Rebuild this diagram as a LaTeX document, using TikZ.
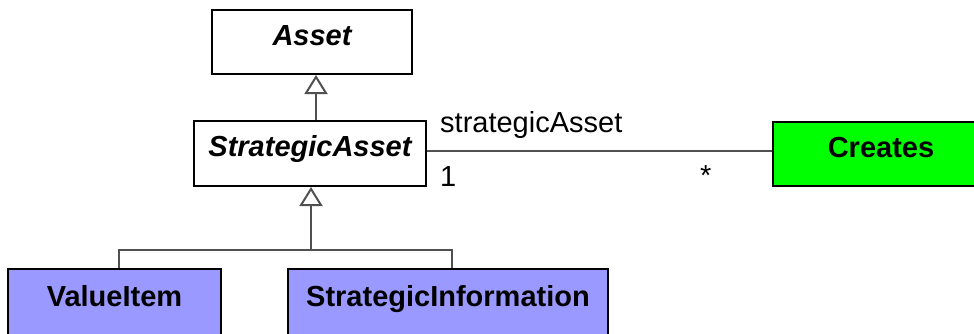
\documentclass[tikz,border=0pt]{standalone}
\usepackage{fontspec}
\setmainfont{Liberation Sans}
\usetikzlibrary{arrows.meta}
\definecolor{clsblue}{RGB}{153,153,255}
\definecolor{clsgreen}{RGB}{0,255,0}
\definecolor{linegray}{RGB}{80,80,80}
\begin{document}
\begin{tikzpicture}[x=1pt,y=-1pt,
  cls/.style={draw=black,line width=2pt,rectangle,anchor=north west,inner xsep=0pt,inner ysep=0pt,text height=35pt,font=\fontsize{29}{34}\selectfont\bfseries},
  ital/.style={font=\fontsize{29}{34}\selectfont\bfseries\itshape},
  conn/.style={draw=linegray,line width=2pt},
  gen/.style={conn,-{Triangle[open,width=23pt,length=19pt,line width=2pt]}},
  lbl/.style={font=\fontsize{29}{34}\selectfont,inner sep=0pt,anchor=base west}]
\useasboundingbox (0,0) rectangle (974,333);
\clip (0,0) rectangle (974,333);
\node[cls,ital,minimum width=200pt,text depth=29pt] (asset) at (211,9) {Asset};
\node[cls,ital,minimum width=232pt,text depth=30pt] (sa) at (193,120) {StrategicAsset};
\node[cls,fill=clsgreen,minimum width=216pt,text depth=29pt] (cr) at (772,121) {Creates};
\node[cls,fill=clsblue,minimum width=213pt,text depth=80pt,text height=37pt] (vi) at (7,268) {ValueItem};
\node[cls,fill=clsblue,minimum width=320pt,text depth=80pt,text height=37pt] (si) at (287,268) {StrategicInformation};
\coordinate (a1) at (316,0);
\coordinate (j) at (311,250);
\coordinate (vj) at (119,250);
\coordinate (sj) at (452,250);
\draw[gen] (sa.north -| a1) -- (asset.south -| a1);
\draw[gen] (j) -- (sa.south -| j);
\draw[conn] (vi.north -| vj) -- (vj) -- (sj) -- (si.north -| sj);
\coordinate (ay) at (0,151);
\draw[conn] (sa.east |- ay) -- (cr.west |- ay);
\node[lbl] (role) at (440,132) {strategicAsset};
\node[lbl] (m1) at (440,186) {1};
\node[lbl] (m2) at (700,185) {*};
\end{tikzpicture}
\end{document}
